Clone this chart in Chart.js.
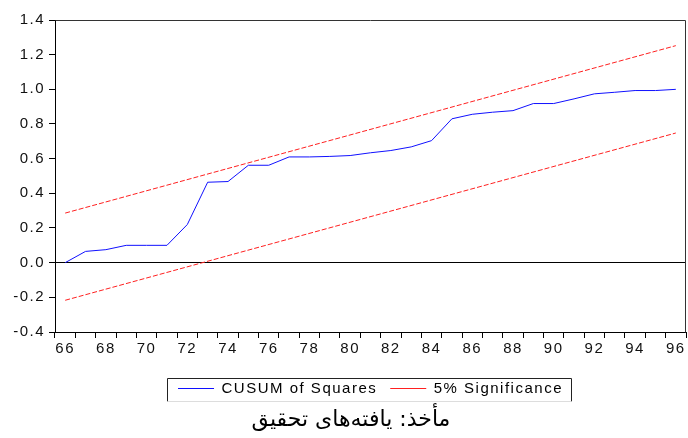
<!DOCTYPE html>
<html>
<head>
<meta charset="utf-8">
<script src="https://cdn.jsdelivr.net/npm/chart.js@4.4.0/dist/chart.umd.min.js"></script>
<style>
  html, body { margin: 0; padding: 0; background: #fff; }
  #wrap { width: 688px; height: 438px; position: relative; }
</style>
</head>
<body>
<div id="wrap"><canvas id="c" width="688" height="438"></canvas></div>
<script>
const years = ['66','67','68','69','70','71','72','73','74','75','76','77','78','79','80','81','82','83','84','85','86','87','88','89','90','91','92','93','94','95','96'];
const cusumSquares = [0.0, 0.065, 0.075, 0.10, 0.10, 0.10, 0.22, 0.464, 0.468, 0.562, 0.562, 0.61, 0.61, 0.613, 0.618, 0.634, 0.647, 0.668, 0.704, 0.83, 0.856, 0.868, 0.877, 0.918, 0.918, 0.945, 0.974, 0.983, 0.993, 0.993, 1.0];
const upperBound = [0.286, null, null, null, null, null, null, null, null, null, null, null, null, null, null, null, null, null, null, null, null, null, null, null, null, null, null, null, null, null, 1.252];
const lowerBound = [-0.217, null, null, null, null, null, null, null, null, null, null, null, null, null, null, null, null, null, null, null, null, null, null, null, null, null, null, null, null, null, 0.748];
const yTickValues = [-0.4, -0.2, 0.0, 0.2, 0.4, 0.6, 0.8, 1.0, 1.2, 1.4];
const seriesNames = ['CUSUM of Squares', '5% Significance'];
const caption = 'مأخذ: یافته‌های تحقیق';

const FONT = '"Liberation Sans", Arial, sans-serif';

const spacingPlugin = {
  id: 'spacing',
  beforeLayout(chart) { chart.ctx.letterSpacing = '1.5px'; },
  beforeDraw(chart) { chart.ctx.letterSpacing = '1.5px'; }
};

const framePlugin = {
  id: 'frame',
  afterDraw(chart) {
    const ctx = chart.ctx, a = chart.chartArea;
    ctx.save();
    ctx.strokeStyle = '#333';
    ctx.lineWidth = 1;
    ctx.beginPath();
    ctx.moveTo(Math.round(a.left) + 0.5, Math.round(a.top) + 0.5);
    ctx.lineTo(Math.round(a.right) - 0.5, Math.round(a.top) + 0.5);
    ctx.lineTo(Math.round(a.right) - 0.5, Math.round(a.bottom) + 0.5);
    ctx.stroke();
    // legend box
    const lg = chart.legend;
    if (lg && lg.legendHitBoxes && lg.legendHitBoxes.length) {
      const hb = lg.legendHitBoxes;
      const first = hb[0], last = hb[hb.length - 1];
      const cy = first.top + first.height / 2;
      const l = Math.round(first.left - 11) + 0.5;
      const r = Math.round(last.left + last.width + 8) + 0.5;
      const t = Math.round(cy - 11) + 0.5;
      const b = Math.round(cy + 12) + 0.5;
      ctx.strokeStyle = '#222';
      ctx.beginPath();
      ctx.moveTo(l, b); ctx.lineTo(l, t); ctx.lineTo(r, t); ctx.lineTo(r, b);
      ctx.stroke();
      ctx.strokeStyle = '#ddd';
      ctx.beginPath();
      ctx.moveTo(l, b); ctx.lineTo(r, b);
      ctx.stroke();
    }
    // caption
    ctx.letterSpacing = '0px';
    ctx.font = '22px "DejaVu Sans", sans-serif';
    ctx.fillStyle = '#000';
    ctx.textAlign = 'center';
    ctx.textBaseline = 'middle';
    ctx.direction = 'rtl';
    ctx.fillText(caption, 351, 420);
    ctx.restore();
  }
};

new Chart(document.getElementById('c'), {
  type: 'line',
  data: {
    labels: years,
    datasets: [
      { label: seriesNames[0], data: cusumSquares, borderColor: '#1010ff', backgroundColor: '#1010ff', borderWidth: 1, pointRadius: 0, tension: 0, fill: false },
      { label: seriesNames[1], data: upperBound, borderColor: '#ff2020', backgroundColor: '#ff2020', borderWidth: 1, borderDash: [5, 2], pointRadius: 0, spanGaps: true, fill: false },
      { label: seriesNames[1], data: lowerBound, borderColor: '#ff2020', backgroundColor: '#ff2020', borderWidth: 1, borderDash: [5, 2], pointRadius: 0, spanGaps: true, fill: false }
    ]
  },
  options: {
    responsive: false,
    animation: false,
    devicePixelRatio: 1,
    layout: { padding: { top: 20, right: 2, left: 0, bottom: 32 } },
    plugins: {
      tooltip: { enabled: false },
      title: { display: false },
      legend: {
        position: 'bottom',
        fullSize: false,
        labels: {
          usePointStyle: true,
          pointStyle: 'line',
          pointStyleWidth: 36,
          padding: 13,
          color: '#000',
          font: { family: FONT, size: 15 },
          filter: (item) => item.datasetIndex !== 2
        }
      }
    },
    scales: {
      x: {
        type: 'category',
        offset: true,
        afterFit: (s) => { s.height = 36; },
        grid: { offset: true, drawOnChartArea: false, tickLength: 6, tickColor: '#000', lineWidth: 1 },
        border: { display: true, color: '#000' },
        ticks: {
          autoSkip: false, maxRotation: 0, padding: 2, color: '#111',
          font: { family: FONT, size: 15 },
          callback: (v, i) => (i % 2 === 0 ? years[i] : '')
        }
      },
      y: {
        min: yTickValues[0],
        max: yTickValues[yTickValues.length - 1],
        afterFit: (s) => { s.width = 55; },
        afterBuildTicks: (s) => { s.ticks = yTickValues.map(v => ({ value: v })); },
        grid: {
          drawOnChartArea: true,
          tickLength: 6,
          tickColor: '#000',
          color: (c) => (c.tick && Math.abs(c.tick.value) < 1e-9 ? '#000' : 'rgba(0,0,0,0)')
        },
        border: { display: true, color: '#000' },
        ticks: {
          padding: 4, color: '#111',
          font: { family: FONT, size: 15 },
          callback: (v) => Number(v).toFixed(1)
        }
      }
    }
  },
  plugins: [spacingPlugin, framePlugin]
});
</script>
</body>
</html>
